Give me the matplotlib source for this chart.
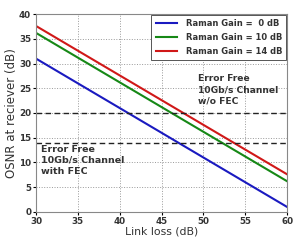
import matplotlib
matplotlib.use("Agg")
import matplotlib.pyplot as plt

link_loss = [30, 35, 40, 45, 50, 55, 60]
osnr_0db = [31.0, 26.0, 21.0, 16.0, 11.0, 6.0, 1.0]
osnr_10db = [36.2, 31.2, 26.2, 21.2, 16.2, 11.2, 6.2]
osnr_14db = [37.6, 32.6, 27.6, 22.6, 17.6, 12.6, 7.6]
labels = ["Raman Gain =  0 dB", "Raman Gain = 10 dB", "Raman Gain = 14 dB"]
thresholds = [20, 14]

fig = plt.figure(figsize=(3.0, 2.43), dpi=100)
ax = fig.add_axes([0.12, 0.128, 0.837, 0.814])

ax.plot(link_loss, osnr_0db, color="#1a1ac0", lw=1.5, label=labels[0])
ax.plot(link_loss, osnr_10db, color="#168816", lw=1.5, label=labels[1])
ax.plot(link_loss, osnr_14db, color="#d01818", lw=1.5, label=labels[2])
for t in thresholds:
    ax.axhline(t, color="#222222", ls=(0, (4, 2.5)), lw=1.0)

ax.set_xlim(30, 60)
ax.set_ylim(0, 40)
ax.set_xticks(range(30, 61, 5))
ax.set_yticks(range(0, 41, 5))
ax.grid(True, ls=":", color="#999999", lw=0.7)
ax.tick_params(labelsize=6.3, length=2, pad=1.5)
for lab in ax.get_xticklabels() + ax.get_yticklabels():
    lab.set_fontweight("bold")
    lab.set_color("#333333")
ax.set_xlabel("Link loss (dB)", fontsize=7.8, labelpad=0.5, color="#333333")
ax.set_ylabel("OSNR at reciever (dB)", fontsize=8.5, labelpad=0.5, color="#333333")
for s in ax.spines.values():
    s.set_color("#888888")

ax.text(49.3, 27.8, "Error Free\n10Gb/s Channel\nw/o FEC", fontsize=6.6,
        va="top", ha="left", color="#333333", fontweight="bold", linespacing=1.3)
ax.text(30.6, 13.6, "Error Free\n10Gb/s Channel\nwith FEC", fontsize=6.8,
        va="top", ha="left", color="#333333", fontweight="bold", linespacing=1.3)

leg = ax.legend(loc="upper right", prop={"size": 6, "weight": "bold"},
                handlelength=2.6, borderpad=0.5, labelspacing=0.6,
                handletextpad=1.0, fancybox=False, framealpha=1,
                borderaxespad=0.1)
leg.get_frame().set_edgecolor("#555555")
leg.get_frame().set_linewidth(0.7)
for t in leg.get_texts():
    t.set_color("#333333")

fig.savefig("out.png", dpi=100)
